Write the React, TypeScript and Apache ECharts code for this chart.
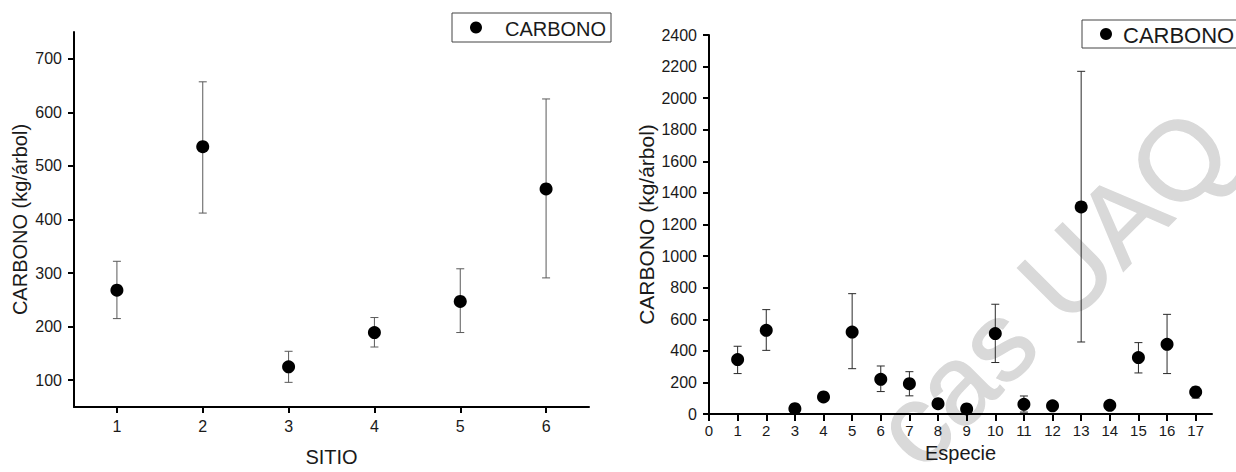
import React, { useEffect, useRef } from "react";
import * as echarts from "echarts";

// ---- Left chart: CARBONO por SITIO ----
const sitios = [1, 2, 3, 4, 5, 6];
const sitioMean = [268, 536, 125, 189, 247, 457];
const sitioLow = [215, 412, 96, 162, 189, 291];
const sitioHigh = [322, 657, 154, 217, 308, 625];
const sitioYTicks = [100, 200, 300, 400, 500, 600, 700];

// ---- Right chart: CARBONO por Especie ----
const especies = [1, 2, 3, 4, 5, 6, 7, 8, 9, 10, 11, 12, 13, 14, 15, 16, 17];
const especieMean = [345, 530, 34, 108, 519, 220, 192, 65, 32, 509, 61, 52, 1311, 55, 357, 441, 139];
const especieLow = [256, 403, 22, 96, 287, 142, 115, 53, 20, 326, 12, 40, 456, 43, 260, 256, 101];
const especieHigh = [429, 661, 46, 120, 762, 304, 268, 77, 44, 695, 114, 64, 2170, 67, 452, 631, 171];
const especieXTicks = [0, 1, 2, 3, 4, 5, 6, 7, 8, 9, 10, 11, 12, 13, 14, 15, 16, 17];

const seriesName = "CARBONO";
const yTitle = "CARBONO (kg/árbol)";
const watermark = "cas UAQ";

const FONT = "'Liberation Sans', Arial, Helvetica, sans-serif";

function errRender(color: string) {
  return (params: any, api: any) => {
    const x = api.value(0);
    const lo = api.value(1);
    const hi = api.value(2);
    const pLo = api.coord([x, lo]);
    const pHi = api.coord([x, hi]);
    const hw = 4;
    const style = { stroke: color, lineWidth: 1 };
    return {
      type: "group",
      children: [
        { type: "line", shape: { x1: pHi[0], y1: pHi[1], x2: pLo[0], y2: pLo[1] }, style },
        { type: "line", shape: { x1: pHi[0] - hw, y1: pHi[1], x2: pHi[0] + hw, y2: pHi[1] }, style },
        { type: "line", shape: { x1: pLo[0] - hw, y1: pLo[1], x2: pLo[0] + hw, y2: pLo[1] }, style },
      ],
    };
  };
}

function legendBox(x: number, y: number, w: number, h: number, fontSize: number, iconDx: number, textDx: number) {
  const cy = y + h / 2;
  return {
    type: "group",
    z: 50,
    silent: true,
    children: [
      {
        type: "rect",
        shape: { x, y, width: w, height: h },
        style: { fill: "#fff", stroke: "#444", lineWidth: 1 },
      },
      { type: "circle", shape: { cx: x + iconDx, cy, r: 6 }, style: { fill: "#000" } },
      {
        type: "text",
        x: x + textDx,
        y: cy + 1,
        style: {
          text: seriesName,
          fontSize,
          fontFamily: FONT,
          fill: "#1a1a1a",
          align: "left",
          verticalAlign: "middle",
        },
      },
    ],
  };
}

export default function App() {
  const ref = useRef<HTMLDivElement>(null);
  useEffect(() => {
    if (!ref.current) return;
    const chart = echarts.init(ref.current, undefined, { renderer: "svg" });

    const axisLine = { show: true, onZero: false, lineStyle: { color: "#000", width: 2 } };
    const tickStyle = { color: "#000", width: 2 };
    const labelBase = { color: "#1a1a1a", fontFamily: FONT, fontSize: 16 };

    const option: any = {
      animation: false,
      backgroundColor: "#fff",
      textStyle: { fontFamily: FONT },
      grid: [
        { left: 74, top: 32, width: 515, height: 379 },
        { left: 709, top: 35, width: 503, height: 379 },
      ],
      xAxis: [
        {
          type: "value",
          gridIndex: 0,
          min: 0.5,
          max: 6.5,
          axisLine,
          axisTick: { show: true, length: 6, customValues: sitios, lineStyle: tickStyle },
          axisLabel: { ...labelBase, margin: 11, customValues: sitios },
          splitLine: { show: false },
          name: "SITIO",
          nameLocation: "middle",
          nameGap: 40,
          nameTextStyle: { fontSize: 20, color: "#1a1a1a", fontFamily: FONT },
        },
        {
          type: "value",
          gridIndex: 1,
          min: 0,
          max: 17.57,
          axisLine,
          axisTick: { show: true, length: 7, customValues: especieXTicks, lineStyle: tickStyle },
          axisLabel: { ...labelBase, fontSize: 15, margin: 9, customValues: especieXTicks },
          splitLine: { show: false },
          name: "Especie",
          nameLocation: "middle",
          nameGap: 29,
          nameTextStyle: { fontSize: 20, color: "#1a1a1a", fontFamily: FONT },
        },
      ],
      yAxis: [
        {
          type: "value",
          gridIndex: 0,
          min: 50,
          max: 750,
          axisLine,
          axisTick: { show: true, length: 6, customValues: sitioYTicks, lineStyle: tickStyle },
          axisLabel: { ...labelBase, margin: 12, customValues: sitioYTicks },
          splitLine: { show: false },
          name: yTitle,
          nameLocation: "middle",
          nameGap: 44,
          nameTextStyle: { fontSize: 20, color: "#1a1a1a", fontFamily: FONT },
        },
        {
          type: "value",
          gridIndex: 1,
          min: 0,
          max: 2400,
          interval: 200,
          axisLine,
          axisTick: { show: true, length: 6, lineStyle: tickStyle },
          axisLabel: { ...labelBase, margin: 12, formatter: (v: number) => String(v) },
          splitLine: { show: false },
          name: yTitle,
          nameLocation: "middle",
          nameGap: 52,
          nameTextStyle: { fontSize: 21, color: "#1a1a1a", fontFamily: FONT },
        },
      ],
      graphic: [
        {
          type: "text",
          x: 1052,
          y: 288,
          rotation: Math.PI / 4,
          z: -10,
          silent: true,
          style: {
            text: watermark,
            fontSize: 112,
            fontFamily: FONT,
            fill: "#d9d9d9",
            stroke: "#d9d9d9",
            lineWidth: 1.5,
            align: "center",
            verticalAlign: "middle",
          },
        },
        legendBox(452, 13, 159, 29, 20, 24, 53),
        legendBox(1082, 20, 200, 28, 22, 24, 41),
      ],
      series: [
        {
          name: "err-sitio",
          type: "custom",
          xAxisIndex: 0,
          yAxisIndex: 0,
          renderItem: errRender("#5a5a5a"),
          encode: { x: 0, y: [1, 2] },
          data: sitios.map((s, i) => [s, sitioLow[i], sitioHigh[i]]),
          z: 2,
        },
        {
          name: seriesName,
          type: "scatter",
          xAxisIndex: 0,
          yAxisIndex: 0,
          symbol: "circle",
          symbolSize: 13,
          itemStyle: { color: "#000", opacity: 1 },
          data: sitios.map((s, i) => [s, sitioMean[i]]),
          z: 3,
        },
        {
          name: "err-especie",
          type: "custom",
          xAxisIndex: 1,
          yAxisIndex: 1,
          renderItem: errRender("#2a2a2a"),
          encode: { x: 0, y: [1, 2] },
          data: especies.map((s, i) => [s, especieLow[i], especieHigh[i]]),
          z: 2,
        },
        {
          name: seriesName,
          type: "scatter",
          xAxisIndex: 1,
          yAxisIndex: 1,
          symbol: "circle",
          symbolSize: 13,
          itemStyle: { color: "#000", opacity: 1 },
          data: especies.map((s, i) => [s, especieMean[i]]),
          z: 3,
        },
      ],
    };
    chart.setOption(option);
    return () => chart.dispose();
  }, []);

  return (
    <div
      ref={ref}
      style={{ position: "absolute", left: 0, top: 0, width: 1236, height: 472, background: "#fff" }}
    />
  );
}
